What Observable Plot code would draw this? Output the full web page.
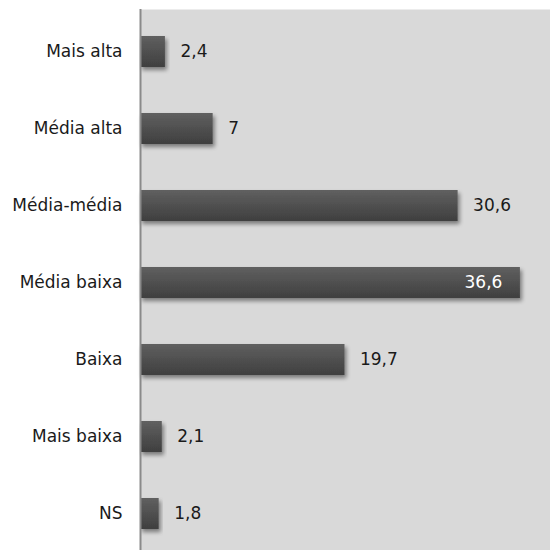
<!DOCTYPE html>
<html>
<head>
<meta charset="utf-8">
<script src="https://cdn.jsdelivr.net/npm/d3@7"></script>
<script src="https://cdn.jsdelivr.net/npm/@observablehq/plot@0.6"></script>
<style>
  html, body { margin: 0; padding: 0; background: #fff; overflow: hidden; }
  svg { display: block; }
</style>
</head>
<body>
<div id="chart"></div>
<script>
const categories = ["Mais alta", "Média alta", "Média-média", "Média baixa", "Baixa", "Mais baixa", "NS"];
const values = [2.4, 7, 30.6, 36.6, 19.7, 2.1, 1.8];
const valueLabels = ["2,4", "7", "30,6", "36,6", "19,7", "2,1", "1,8"];
const insideLabel = "36,6";

const data = categories.map((c, i) => ({category: c, value: values[i], label: valueLabels[i]}));
const outside = data.filter(d => d.label !== insideLabel);
const inside = data.filter(d => d.label === insideLabel);

const font = "'DejaVu Sans', 'Liberation Sans', sans-serif";

const chart = Plot.plot({
  width: 550,
  height: 555,
  marginLeft: 140,
  marginRight: 0,
  marginTop: 9,
  marginBottom: 0,
  style: {fontFamily: font, fontSize: "17px", color: "#1a1a1a", background: "#fff"},
  x: {domain: [0, 39.5], axis: null},
  y: {domain: categories, paddingInner: 0.6, paddingOuter: 0.315, label: null, axis: null},
  marks: [
    Plot.frame({fill: "#d9d9d9", stroke: null}),
    Plot.barX(data, {x: "value", y: "category", fill: "url(#barGrad)"}),
    Plot.ruleX([0], {stroke: "#8a8a8a", strokeWidth: 2}),
    Plot.text(outside, {x: "value", y: "category", text: "label", dx: 15, textAnchor: "start", fill: "#1a1a1a"}),
    Plot.text(inside, {x: "value", y: "category", text: "label", dx: -18, textAnchor: "end", fill: "#ffffff"}),
    Plot.axisY({tickSize: 0, tickPadding: 18, label: null, fill: "#1a1a1a"})
  ]
});

const ns = "http://www.w3.org/2000/svg";
const defs = document.createElementNS(ns, "defs");
defs.innerHTML = `
  <linearGradient id="barGrad" x1="0" y1="0" x2="0" y2="1">
    <stop offset="0" stop-color="#606060"/>
    <stop offset="1" stop-color="#3f3f3f"/>
  </linearGradient>
  <filter id="barShadow" x="-10%" y="-20%" width="130%" height="160%">
    <feGaussianBlur in="SourceAlpha" stdDeviation="2"/>
    <feOffset dx="2" dy="3" result="off"/>
    <feComponentTransfer><feFuncA type="linear" slope="0.45"/></feComponentTransfer>
    <feMerge><feMergeNode/><feMergeNode in="SourceGraphic"/></feMerge>
  </filter>`;
chart.insertBefore(defs, chart.firstChild);
chart.querySelectorAll("rect").forEach(r => {
  if (r.getAttribute("fill") === "url(#barGrad)" || (r.parentNode && r.parentNode.getAttribute("fill") === "url(#barGrad)")) {
    r.setAttribute("filter", "url(#barShadow)");
  }
});
document.getElementById("chart").appendChild(chart);
</script>
</body>
</html>
